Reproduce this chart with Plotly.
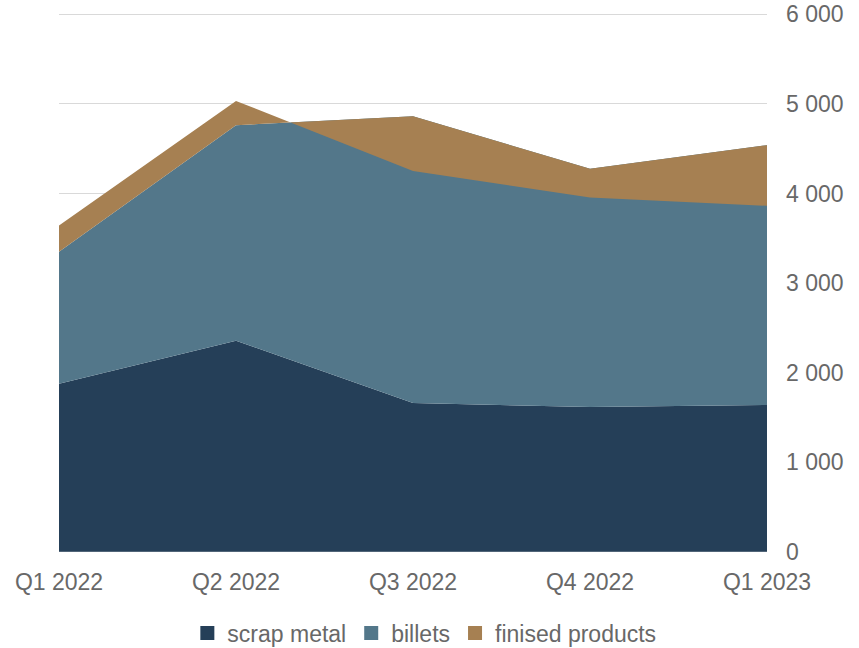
import plotly.graph_objects as go

quarters = ["Q1 2022", "Q2 2022", "Q3 2022", "Q4 2022", "Q1 2023"]
scrap_metal = [1875, 2355, 1660, 1615, 1638]
billets = [1475, 2407, 3202, 2660, 2901]
finised_products = [291, 271, -610, -320, -677]

series_names = ["scrap metal", "billets", "finised products"]
series_values = [scrap_metal, billets, finised_products]
colors = ["#253F58", "#53778A", "#A68052"]

FONT = "Liberation Sans, Arial, sans-serif"
TXT = "#686868"

fig = go.Figure()
for name, vals, col in zip(series_names, series_values, colors):
    fig.add_trace(go.Scatter(
        x=quarters, y=vals, name=name, mode="lines",
        stackgroup="one", line=dict(width=0, color=col),
        fillcolor=col, showlegend=False, hoverinfo="x+y+name"))
for name, col in zip(series_names, colors):
    fig.add_trace(go.Scatter(
        x=[None], y=[None], name=name, mode="markers",
        marker=dict(symbol="square", size=14, color=col),
        showlegend=True))

fig.update_layout(
    width=859, height=648,
    margin=dict(l=59, r=92, t=12.65, b=94.65, autoexpand=False),
    paper_bgcolor="white", plot_bgcolor="white",
    separators=". ",
    font=dict(family=FONT, size=23, color=TXT),
    showlegend=True,
    legend=dict(orientation="h", xref="container", yref="container",
                x=0.494, xanchor="center", y=0.023, yanchor="middle",
                traceorder="normal",
                font=dict(family=FONT, size=23, color=TXT),
                itemwidth=30, tracegroupgap=0),
    xaxis=dict(type="category", range=[0, 4], showgrid=False,
               zeroline=False, showline=False, ticks="", automargin=False,
               tickfont=dict(family=FONT, size=23, color=TXT),
               ticklabelstandoff=13),
    yaxis=dict(side="right", range=[-15, 6015], tickvals=[0, 1000, 2000, 3000, 4000, 5000, 6000],
               tickformat=",d", showgrid=True, gridcolor="#D9D9D9",
               gridwidth=1.3, zeroline=False, showline=False, ticks="",
               automargin=False,
               tickfont=dict(family=FONT, size=23, color=TXT),
               ticklabelstandoff=18),
)

fig.write_html("out.html", config={"displayModeBar": False},
               post_script="document.body.style.margin='0';document.body.style.overflow='hidden';")
